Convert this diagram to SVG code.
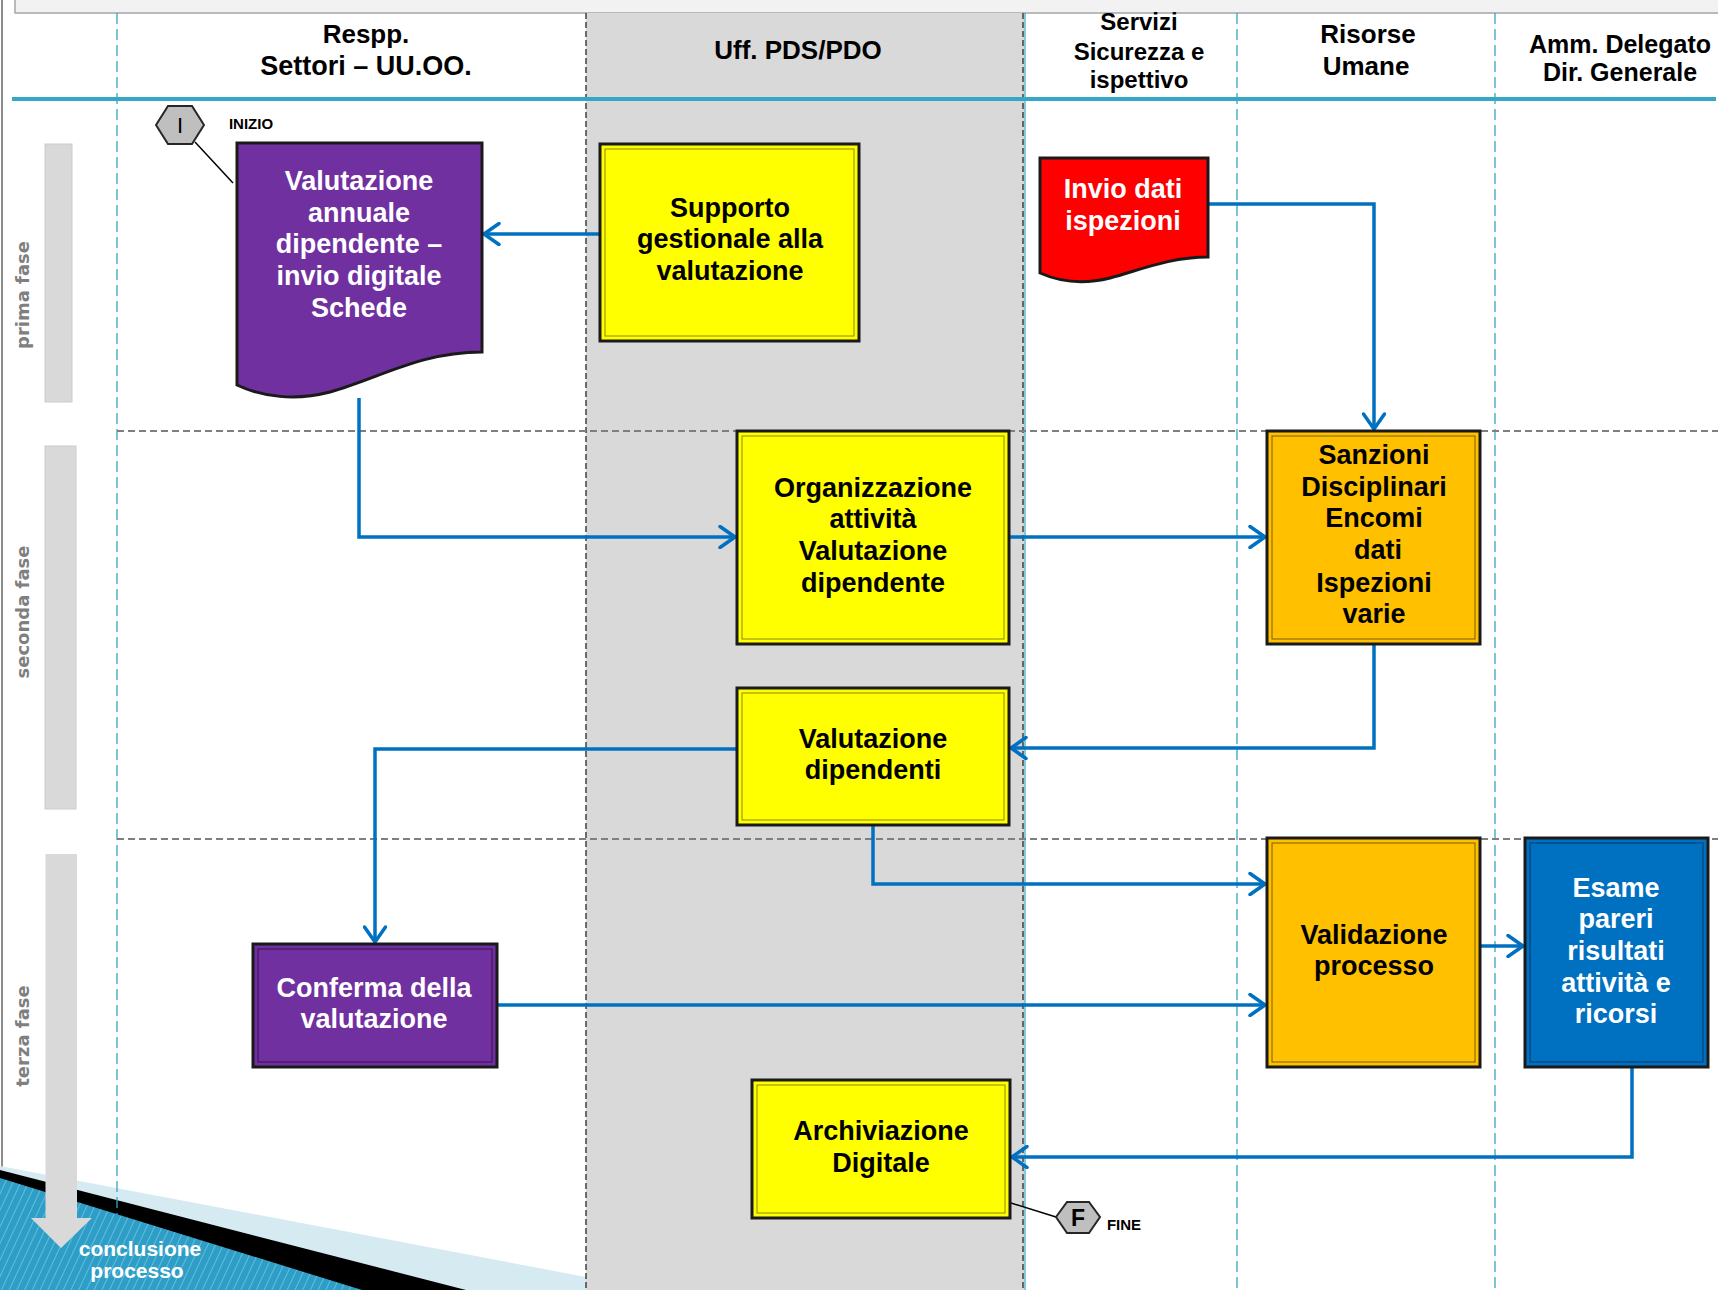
<svg xmlns="http://www.w3.org/2000/svg" width="1718" height="1290" viewBox="0 0 1718 1290">
<defs>
<style>
.t{font-family:"Liberation Sans",Arial,sans-serif;font-weight:bold;text-anchor:middle}
.hd{font-size:26px;fill:#000}
.nd{font-size:27px}
.blk{fill:#000}
.wht{fill:#fff}
.ph{font-family:"DejaVu Sans","Liberation Sans",sans-serif;font-weight:bold;font-size:18px;fill:#7f7f7f;text-anchor:middle}
.box{stroke:#1a1a1a;stroke-width:3}
.cdash{stroke:#35a6c4;stroke-width:1.3;stroke-dasharray:11 5;fill:none}
.pdash{stroke:#7f7f7f;stroke-width:2;stroke-dasharray:7 4;fill:none}
.conn{fill:none;stroke:#0070c0;stroke-width:3.5;marker-end:url(#arr)}
.hex{fill:#bfbfbf;stroke:#262626;stroke-width:2}
</style>
<marker id="arr" viewBox="0 0 20 24" refX="18" refY="12" markerWidth="20" markerHeight="24" markerUnits="userSpaceOnUse" orient="auto">
<path d="M3,1.5 L18,12 L3,22.5" fill="none" stroke="#0070c0" stroke-width="3.5" stroke-linecap="round" stroke-linejoin="round"/>
</marker>
<pattern id="stripes" width="7" height="7" patternUnits="userSpaceOnUse" patternTransform="rotate(25)">
<rect width="7" height="7" fill="#2e9ec6"/>
<line x1="0" y1="0" x2="0" y2="7" stroke="#62bde0" stroke-width="2"/>
</pattern>
</defs>

<!-- background -->
<rect x="0" y="0" width="1718" height="1290" fill="#ffffff"/>
<rect x="15" y="-2" width="1705" height="15" fill="#f2f2f2" stroke="#a6a6a6" stroke-width="1.5"/>
<line x1="2" y1="0" x2="2" y2="1290" stroke="#8c8c8c" stroke-width="2"/>

<!-- bottom-left decoration -->
<polygon points="0,1166 586,1277 586,1290 0,1290" fill="#d6eaf2"/>
<polygon points="0,1170 466,1290 0,1290" fill="#000"/>
<polygon points="0,1178 362,1290 0,1290" fill="url(#stripes)"/>

<!-- grey swimlane -->
<rect x="586" y="13" width="438" height="1277" fill="#d9d9d9"/>
<line x1="586" y1="13" x2="586" y2="1290" stroke="#404040" stroke-width="1.5" stroke-dasharray="6 3"/>
<line x1="1023" y1="13" x2="1023" y2="1290" stroke="#404040" stroke-width="1.5" stroke-dasharray="6 3"/>
<line x1="1025" y1="13" x2="1025" y2="1290" stroke="#35a6c4" stroke-width="1.2"/>

<!-- lane separators -->
<line class="cdash" x1="117" y1="13" x2="117" y2="1215"/>
<line class="cdash" x1="1237" y1="13" x2="1237" y2="1290"/>
<line class="cdash" x1="1495" y1="13" x2="1495" y2="1290"/>

<!-- phase separators -->
<line class="pdash" x1="117" y1="431" x2="1718" y2="431"/>
<line class="pdash" x1="117" y1="839" x2="1718" y2="839"/>

<!-- header line -->
<line x1="12" y1="99" x2="1716" y2="99" stroke="#35a6c4" stroke-width="4"/>

<!-- header texts -->
<g id="hdr-respp">
<text class="t hd" x="366" y="43">Respp.</text>
<text class="t hd" x="366" y="75" style="font-size:27px">Settori – UU.OO.</text>
</g>
<g id="hdr-uff">
<text class="t hd" x="798" y="59">Uff. PDS/PDO</text>
</g>
<g id="hdr-servizi">
<text class="t" x="1139" y="30" style="font-size:24px">Servizi</text>
<text class="t" x="1139" y="60" style="font-size:24px">Sicurezza e</text>
<text class="t" x="1139" y="88" style="font-size:24px">ispettivo</text>
</g>
<g id="hdr-risorse">
<text class="t hd" x="1368" y="43">Risorse</text>
<text class="t hd" x="1366" y="75">Umane</text>
</g>
<g id="hdr-amm">
<text class="t" x="1620" y="53" style="font-size:25px">Amm. Delegato</text>
<text class="t" x="1620" y="81" style="font-size:25px">Dir. Generale</text>
</g>

<!-- phase markers -->
<g id="phase-1">
<rect x="45" y="144" width="27" height="258" fill="#d9d9d9" stroke="#cccccc" stroke-width="1"/>
<text class="ph" transform="translate(29,295) rotate(-90)">prima fase</text>
</g>
<g id="phase-2">
<rect x="45" y="446" width="31" height="363" fill="#d9d9d9" stroke="#cccccc" stroke-width="1"/>
<text class="ph" transform="translate(29,612) rotate(-90)">seconda fase</text>
</g>
<g id="phase-3">
<polygon points="45.5,854 77,854 77,1218 92,1218 61,1248 31,1218 45.5,1218" fill="#d9d9d9"/>
<text class="ph" transform="translate(29,1036) rotate(-90)">terza fase</text>
</g>
<g id="conclusione">
<text class="t wht" x="140" y="1256" style="font-size:21px">conclusione</text>
<text class="t wht" x="137" y="1278" style="font-size:21px">processo</text>
</g>

<!-- connectors -->
<g id="connectors">
<path class="conn" d="M600,234 H484"/>
<path class="conn" d="M359,398 V537 H735"/>
<path class="conn" d="M1208,204 H1374 V429"/>
<path class="conn" d="M1009,537 H1265"/>
<path class="conn" d="M1374,644 V748 H1011"/>
<path class="conn" d="M737,749 H375 V942"/>
<path class="conn" d="M873,825 V884 H1265"/>
<path class="conn" d="M497,1005 H1265"/>
<path class="conn" d="M1480,946 H1523"/>
<path class="conn" d="M1632,1067 V1157 H1012"/>
<line x1="195" y1="142" x2="233" y2="183" stroke="#000" stroke-width="1.5"/>
<line x1="1011" y1="1203" x2="1056" y2="1217" stroke="#000" stroke-width="1.5"/>
</g>

<!-- start / end -->
<g id="start">
<polygon class="hex" points="156,125 168,106 192,106 204,125 192,144 168,144"/>
<text class="t blk" x="180" y="133" style="font-size:22px;font-weight:normal">I</text>
<text class="t blk" x="251" y="129" style="font-size:15px">INIZIO</text>
</g>
<g id="end">
<polygon class="hex" points="1056,1217 1067,1202 1089,1202 1100,1217 1089,1233 1067,1233"/>
<text class="t blk" x="1078" y="1226" style="font-size:23px">F</text>
<text class="t blk" x="1124" y="1230" style="font-size:15px">FINE</text>
</g>

<!-- nodes -->
<g id="n-valutazione-annuale">
<path class="box" d="M237,143 H482 V352 C420,352 380,378 330,392 C295,401 262,397 237,385 Z" fill="#7030a0"/>
<text class="t nd wht" x="359" y="190">Valutazione</text>
<text class="t nd wht" x="359" y="222">annuale</text>
<text class="t nd wht" x="359" y="253">dipendente –</text>
<text class="t nd wht" x="359" y="285">invio digitale</text>
<text class="t nd wht" x="359" y="317">Schede</text>
</g>
<g id="n-supporto">
<rect class="box" x="600" y="144" width="259" height="197" fill="#ffff00"/>
<rect x="605" y="149" width="249" height="187" fill="none" stroke="#8a8a00" stroke-width="1"/>
<text class="t nd blk" x="730" y="217">Supporto</text>
<text class="t nd blk" x="730" y="248">gestionale alla</text>
<text class="t nd blk" x="730" y="280">valutazione</text>
</g>
<g id="n-invio">
<path class="box" d="M1040,158 H1208 V257 C1170,257 1140,270 1110,278 C1082,285 1058,281 1040,273 Z" fill="#ff0000"/>
<text class="t nd wht" x="1123" y="198">Invio dati</text>
<text class="t nd wht" x="1123" y="230">ispezioni</text>
</g>
<g id="n-organizzazione">
<rect class="box" x="737" y="431" width="272" height="213" fill="#ffff00"/>
<rect x="742" y="436" width="262" height="203" fill="none" stroke="#8a8a00" stroke-width="1"/>
<text class="t nd blk" x="873" y="497">Organizzazione</text>
<text class="t nd blk" x="873" y="528">attività</text>
<text class="t nd blk" x="873" y="560">Valutazione</text>
<text class="t nd blk" x="873" y="592">dipendente</text>
</g>
<g id="n-sanzioni">
<rect class="box" x="1267" y="431" width="213" height="213" fill="#ffc000"/>
<rect x="1272" y="436" width="203" height="203" fill="none" stroke="#7a5c00" stroke-width="1"/>
<text class="t nd blk" x="1374" y="464">Sanzioni</text>
<text class="t nd blk" x="1374" y="496">Disciplinari</text>
<text class="t nd blk" x="1374" y="527">Encomi</text>
<text class="t nd blk" x="1378" y="559">dati</text>
<text class="t nd blk" x="1374" y="592">Ispezioni</text>
<text class="t nd blk" x="1374" y="623">varie</text>
</g>
<g id="n-valutazione-dipendenti">
<rect class="box" x="737" y="688" width="272" height="137" fill="#ffff00"/>
<rect x="742" y="693" width="262" height="127" fill="none" stroke="#8a8a00" stroke-width="1"/>
<text class="t nd blk" x="873" y="748">Valutazione</text>
<text class="t nd blk" x="873" y="779">dipendenti</text>
</g>
<g id="n-validazione">
<rect class="box" x="1267" y="838" width="213" height="229" fill="#ffc000"/>
<rect x="1272" y="843" width="203" height="219" fill="none" stroke="#7a5c00" stroke-width="1"/>
<text class="t nd blk" x="1374" y="944">Validazione</text>
<text class="t nd blk" x="1374" y="975">processo</text>
</g>
<g id="n-esame">
<rect class="box" x="1525" y="838" width="183" height="229" fill="#0070c0"/>
<rect x="1530" y="843" width="173" height="219" fill="none" stroke="#00386a" stroke-width="1"/>
<text class="t nd wht" x="1616" y="897">Esame</text>
<text class="t nd wht" x="1616" y="928">pareri</text>
<text class="t nd wht" x="1616" y="960">risultati</text>
<text class="t nd wht" x="1616" y="992">attività e</text>
<text class="t nd wht" x="1616" y="1023">ricorsi</text>
</g>
<g id="n-conferma">
<rect class="box" x="253" y="944" width="244" height="123" fill="#7030a0"/>
<rect x="258" y="949" width="234" height="113" fill="none" stroke="#38104f" stroke-width="1"/>
<text class="t nd wht" x="374" y="997">Conferma della</text>
<text class="t nd wht" x="374" y="1028">valutazione</text>
</g>
<g id="n-archiviazione">
<rect class="box" x="752" y="1080" width="258" height="138" fill="#ffff00"/>
<rect x="757" y="1085" width="248" height="128" fill="none" stroke="#8a8a00" stroke-width="1"/>
<text class="t nd blk" x="881" y="1140">Archiviazione</text>
<text class="t nd blk" x="881" y="1172">Digitale</text>
</g>
</svg>
